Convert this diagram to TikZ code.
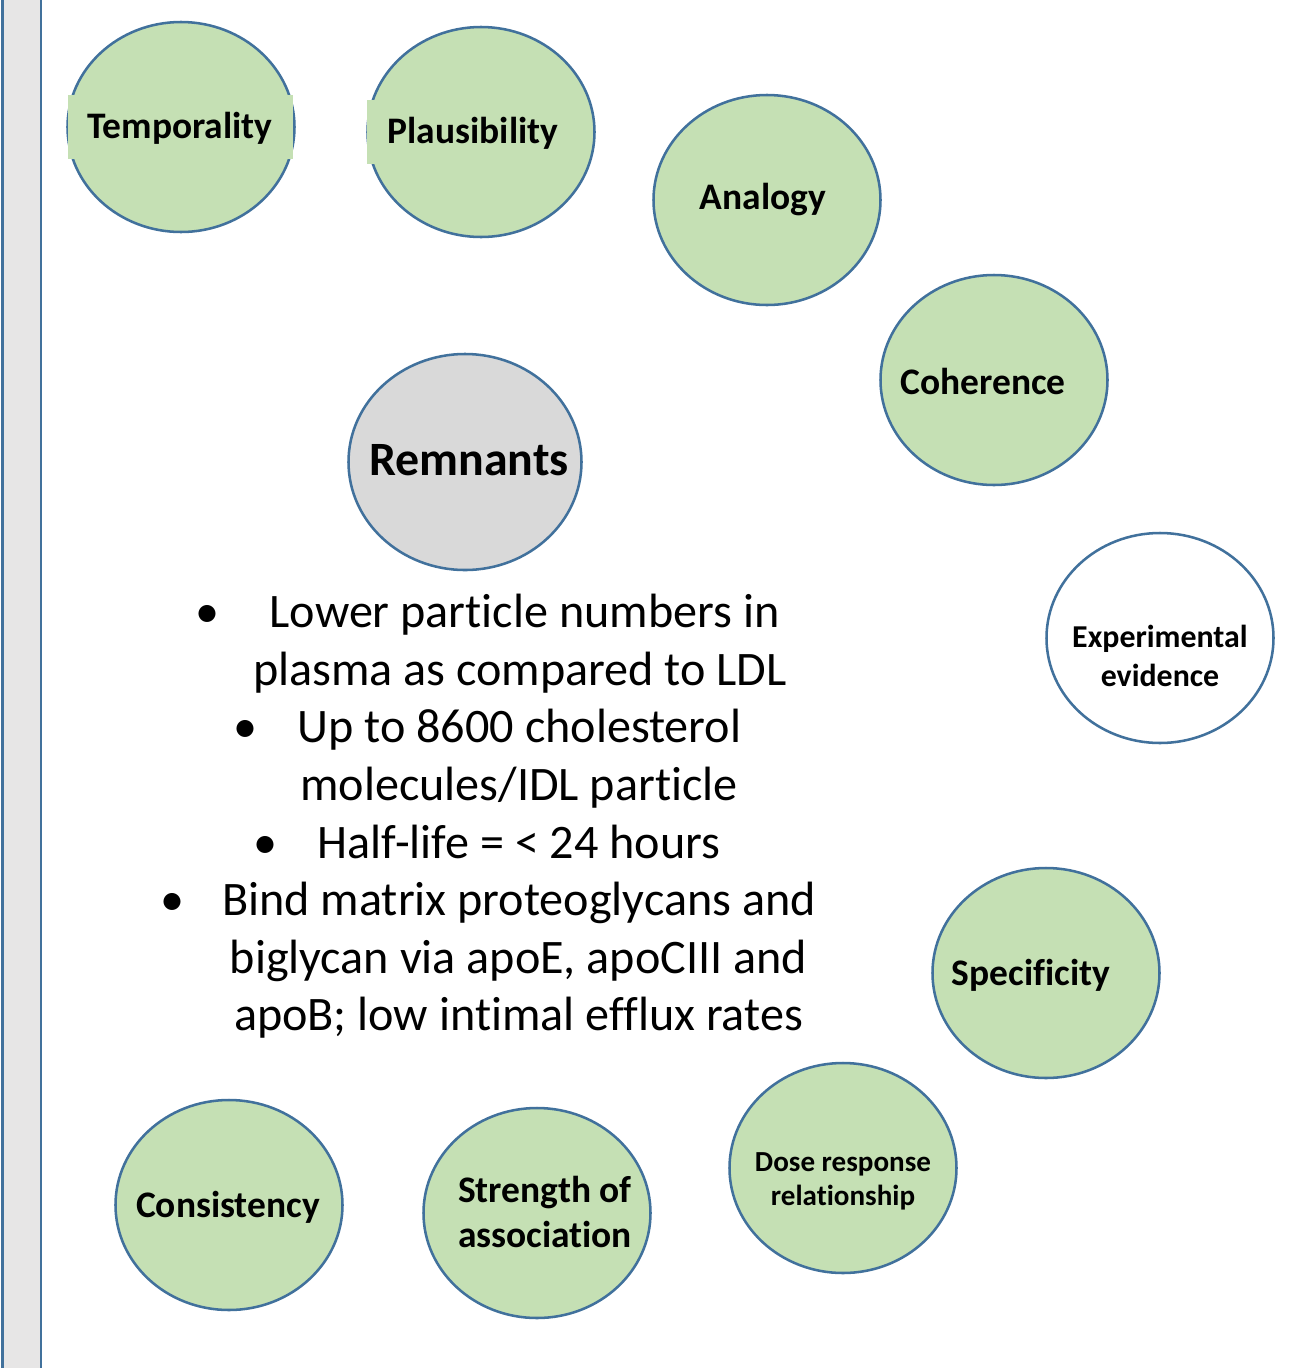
\documentclass[tikz,border=0pt]{standalone}
\usepackage{fontspec}
\setmainfont{Carlito}[Ligatures=NoCommon]
\usetikzlibrary{shapes.geometric}
\definecolor{bgreen}{HTML}{C5E0B4}
\definecolor{bblue}{HTML}{41719C}
\definecolor{bgray}{HTML}{D9D9D9}
\definecolor{barfill}{HTML}{E7E6E6}
\begin{document}
\begin{tikzpicture}[x=0.75pt,y=-0.75pt,
  bubble/.style={ellipse, draw=bblue, line width=1.9pt, fill=bgreen, minimum width=170.25pt, minimum height=157.5pt, inner sep=0pt},
  lbl/.style={font=\fontsize{28.1}{33.5}\selectfont\bfseries, inner sep=0pt, align=center},
  smalllbl/.style={font=\fontsize{23.9}{29.25}\selectfont\bfseries, inner sep=0pt, align=center},
  tinylbl/.style={font=\fontsize{21.8}{25.5}\selectfont\bfseries, inner sep=0pt, align=center},
  bodytext/.style={font=\fontsize{36.1}{43}\selectfont, inner sep=0pt, anchor=base},
  bulletmark/.style={font=\fontsize{36.1}{43}\selectfont, inner sep=0pt, anchor=base}
]
\useasboundingbox[fill=white] (0,0) rectangle (1294,1368);
% left bar
\node[draw=bblue, line width=1.9pt, fill=barfill, minimum width=29pt, minimum height=1030pt, inner sep=0pt, anchor=north west] (bar) at (1,-3) {};

% bubbles
\node[bubble] (temp) at (181,127) {};
\node[fill=bgreen, minimum width=168.75pt, minimum height=48pt, inner sep=0pt, anchor=north west] (tempbox) at (68,95) {};
\node[lbl] (tempT) at (180,128) {Temporality};

\node[bubble] (plaus) at (481,132) {};
\node[fill=bgreen, minimum width=165pt, minimum height=48pt, inner sep=0pt, anchor=north west] (plausbox) at (367,100) {};
\node[lbl] (plausT) at (473,133) {Plausibility};

\node[bubble] (analogy) at (767,200) {};
\node[lbl] (analogyT) at (763,200) {Analogy};

\node[bubble] (coh) at (994,380) {};
\node[lbl] (cohT) at (983,381) {Coherence};

\node[ellipse, draw=bblue, line width=1.9pt, fill=bgray, minimum width=174.75pt, minimum height=162pt, inner sep=0pt] (rem) at (465,462) {};
\node[font=\fontsize{35.9}{42}\selectfont\bfseries, inner sep=0pt] (remT) at (469,460) {Remnants};

\node[bubble, fill=white] (exp) at (1160,638) {};
\node[smalllbl] (expT) at (1160,656) {Experimental\\evidence};

\node[bubble] (spec) at (1046,973) {};
\node[lbl] (specT) at (1031,975) {Specificity};

\node[bubble] (dose) at (843,1168) {};
\node[tinylbl] (doseT) at (843,1181) {Dose response\\relationship};

\node[bubble] (str) at (537,1213) {};
\node[lbl] (strT) at (545,1212) {Strength of\\association};

\node[bubble] (cons) at (229,1205) {};
\node[lbl] (consT) at (228,1207) {Consistency};

% bullet text
\node[bodytext] (l1) at (524.5,627) {Lower particle numbers in};
\node[bodytext] (l2) at (520,685) {plasma as compared to LDL};
\node[bodytext] (l3) at (519.5,742) {Up to 8600 cholesterol};
\node[bodytext] (l4) at (519,800) {molecules/IDL particle};
\node[bodytext] (l5) at (519,858) {Half-life = < 24 hours};
\node[bodytext] (l6) at (519,915) {Bind matrix proteoglycans and};
\node[bodytext] (l7) at (518.5,973) {biglycan via apoE, apoCIII and};
\node[bodytext] (l8) at (518.5,1030) {apoB; low intimal efflux rates};
\node[bulletmark] (b1) at (207,627) {•};
\node[bulletmark] (b3) at (245,742) {•};
\node[bulletmark] (b5) at (265,858) {•};
\node[bulletmark] (b6) at (172,915) {•};
\end{tikzpicture}
\end{document}
